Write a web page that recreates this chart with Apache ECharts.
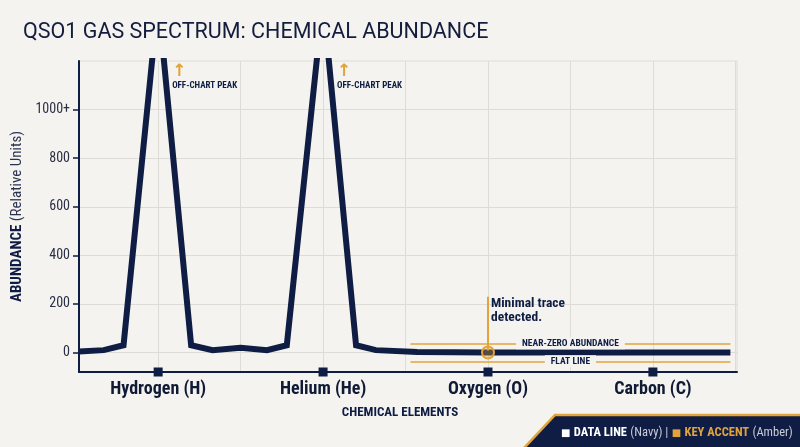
<!DOCTYPE html>
<html>
<head>
<meta charset="utf-8">
<script src="https://cdn.jsdelivr.net/npm/echarts@6/dist/echarts.min.js"></script>
<style>
html, body { margin: 0; padding: 0; background: #f4f3ef; }
#chart { width: 800px; height: 447px; }
</style>
</head>
<body>
<div id="chart"></div>
<script>
// element labels and where they sit on the x scale
const categories = ['Hydrogen (H)', 'Helium (He)', 'Oxygen (O)', 'Carbon (C)'];
const categoryPos = [1, 2, 3, 4];
// spectrum samples (x position, relative abundance)
const spectrumX = [0.52, 0.67, 0.79, 1.0, 1.2, 1.33, 1.5, 1.66, 1.78, 2.0, 2.2, 2.32, 2.57, 3.0, 3.5, 4.0, 4.47];
const spectrumY = [4, 10, 30, 1450, 30, 10, 20, 10, 30, 1450, 30, 10, 2, 0.5, 0.5, 0.5, 0.5];
const yTicks = [0, 200, 400, 600, 800, 1000];
const xGridTicks = [1, 1.5, 2, 2.5, 3, 3.5, 4, 4.5];
const offChartPeaks = [1, 2];
const nearZeroBand = [38, -36];
const traceTop = 230;

const NAVY = '#0f1d45';
const AMBER = '#e2a43a';
const FONT = "'Roboto Condensed', 'Liberation Sans Narrow', Roboto, sans-serif";

const chart = echarts.init(document.getElementById('chart'));

const lineData = spectrumX.map((x, i) => [x, spectrumY[i]]);

const option = {
    backgroundColor: '#f4f3ef',
    title: {
        text: 'QSO1 GAS SPECTRUM: CHEMICAL ABUNDANCE',
        left: 23,
        top: 22,
        padding: 0,
        textStyle: { fontFamily: 'Roboto', fontWeight: 'normal', fontSize: 21.5, color: '#141d3d' }
    },
    grid: {
        left: 79, right: 63, top: 61, bottom: 75,
        show: true, borderColor: '#dedcd6', borderWidth: 1
    },
    xAxis: {
        type: 'value',
        min: 0.52,
        max: 4.51,
        name: 'CHEMICAL ELEMENTS',
        nameLocation: 'middle',
        nameGap: 34,
        nameTextStyle: { fontFamily: FONT, fontWeight: 'bold', fontSize: 13, color: NAVY, padding: [0, 16, 0, 0] },
        axisLine: { onZero: false, lineStyle: { color: NAVY, width: 2 } },
        axisTick: { show: false, customValues: xGridTicks },
        axisLabel: {
            customValues: categoryPos,
            margin: 8,
            fontFamily: FONT, fontWeight: 'bold', fontSize: 18, color: '#111a35',
            formatter: v => categories[categoryPos.indexOf(v)] || ''
        },
        splitLine: { show: true, lineStyle: { color: '#dedcd6', width: 1 } }
    },
    yAxis: {
        type: 'value',
        min: -80,
        max: 1200,
        name: '{b|ABUNDANCE} {r|(Relative Units)}',
        nameLocation: 'middle',
        nameGap: 40,
        nameTextStyle: {
            rich: {
                b: { fontFamily: FONT, fontWeight: 'bold', fontSize: 15, color: NAVY },
                r: { fontFamily: FONT, fontSize: 15, color: '#2a3350' }
            }
        },
        axisLine: { show: true, lineStyle: { color: NAVY, width: 2 } },
        axisTick: { show: true, length: 6, customValues: yTicks, lineStyle: { color: NAVY, width: 1.5 } },
        axisLabel: {
            customValues: yTicks,
            margin: 9,
            fontFamily: FONT, fontSize: 14, color: '#2a2f45',
            formatter: v => v === 1000 ? '1000+' : String(v)
        },
        splitLine: { show: true, lineStyle: { color: '#dedcd6', width: 1 } }
    },
    series: [
        {
            name: 'DATA LINE',
            type: 'line',
            data: lineData,
            symbol: 'none',
            clip: true,
            lineStyle: { color: NAVY, width: 6, join: 'miter' },
            z: 3,
            markPoint: {
                symbol: 'circle',
                symbolSize: 0,
                silent: true,
                label: {
                    show: true,
                    position: [14, 2],
                    align: 'left',
                    formatter: '{a|↑}\n{t|OFF-CHART PEAK}',
                    rich: {
                        a: { color: AMBER, fontSize: 17, fontWeight: 'bold', fontFamily: 'DejaVu Sans', lineHeight: 17 },
                        t: { color: NAVY, fontSize: 9, fontWeight: 'bold', fontFamily: FONT, lineHeight: 12 }
                    }
                },
                data: offChartPeaks.map(x => ({ coord: [x, 1200] }))
            }
        },
        {
            name: 'KEY ACCENT',
            type: 'line',
            data: [],
            silent: true,
            markLine: {
                symbol: 'none',
                silent: true,
                lineStyle: { color: AMBER, width: 1.5, type: 'solid' },
                label: {
                    show: true,
                    position: 'middle',
                    distance: 0,
                    verticalAlign: 'middle',
                    color: NAVY,
                    fontFamily: FONT,
                    fontWeight: 'bold',
                    fontSize: 9.5,
                    backgroundColor: '#f4f3ef',
                    padding: [1, 6]
                },
                data: [
                    [{ coord: [2.53, nearZeroBand[0]], label: { formatter: 'NEAR-ZERO ABUNDANCE' } }, { coord: [4.47, nearZeroBand[0]] }],
                    [{ coord: [2.53, nearZeroBand[1]], label: { formatter: 'FLAT LINE' } }, { coord: [4.47, nearZeroBand[1]] }],
                    [{ coord: [3, traceTop], label: { show: false }, lineStyle: { width: 2 } }, { coord: [3, 8] }]
                ]
            },
            z: 2
        },
        {
            name: 'Oxygen trace',
            type: 'scatter',
            data: [[3, 0.5]],
            symbol: 'circle',
            symbolSize: 12,
            itemStyle: { color: 'rgba(226,164,58,0.35)', borderColor: AMBER, borderWidth: 2, opacity: 1 },
            label: {
                show: true,
                position: [10, -49],
                align: 'left',
                formatter: 'Minimal trace\ndetected.',
                fontFamily: FONT, fontWeight: 'bold', fontSize: 13.5, lineHeight: 14, color: NAVY
            },
            z: 5
        },
        {
            name: 'Element markers',
            type: 'scatter',
            data: categoryPos.map(x => [x, -80]),
            symbol: 'rect',
            symbolSize: 9,
            clip: false,
            itemStyle: { color: NAVY, opacity: 1 },
            z: 6
        }
    ],
    graphic: [
        {
            type: 'polygon',
            shape: { points: [[524, 448], [555, 415], [801, 415], [801, 448]] },
            style: { fill: '#0f1d45' }
        },
        {
            type: 'polyline',
            shape: { points: [[524, 448], [555, 415], [801, 415]] },
            style: { stroke: AMBER, lineWidth: 2.5, fill: null }
        },
        {
            type: 'text',
            x: 561,
            y: 433,
            style: {
                text: '{sw|■} {b|DATA LINE} {r|(Navy) |} {sa|■} {ba|KEY ACCENT} {r|(Amber)}',
                verticalAlign: 'middle',
                rich: {
                    sw: { fill: '#ffffff', fontSize: 10, fontFamily: 'DejaVu Sans' },
                    sa: { fill: AMBER, fontSize: 10, fontFamily: 'DejaVu Sans' },
                    b: { fill: '#ffffff', fontSize: 12.5, fontWeight: 'bold', fontFamily: FONT },
                    ba: { fill: AMBER, fontSize: 12.5, fontWeight: 'bold', fontFamily: FONT },
                    r: { fill: '#c9ccd6', fontSize: 12.5, fontFamily: FONT }
                }
            }
        }
    ]
};

chart.setOption(option);
</script>
</body>
</html>
